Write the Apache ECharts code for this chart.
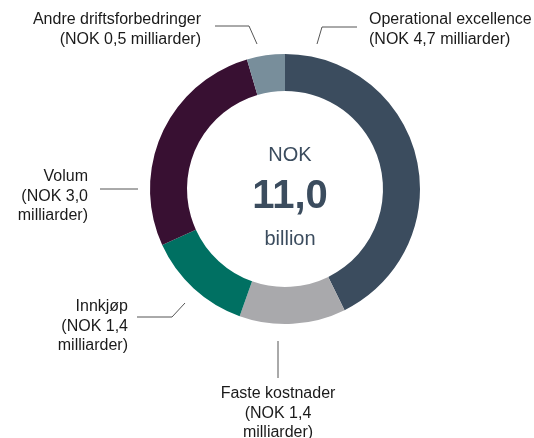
<!DOCTYPE html>
<html>
<head>
<meta charset="utf-8">
<script src="https://cdn.jsdelivr.net/npm/echarts@6/dist/echarts.min.js"></script>
<style>
  html, body { margin: 0; padding: 0; background: #fff; }
  #chart { width: 534px; height: 438px; }
</style>
</head>
<body>
<div id="chart"></div>
<script>
// data
var categories = ['Operational excellence', 'Faste kostnader', 'Innkjøp', 'Volum', 'Andre driftsforbedringer'];
var values = [4.7, 1.4, 1.4, 3.0, 0.5];
var wrapUnit = [false, true, true, true, false];
var colors = ['#3b4c5e', '#a9a9ac', '#007062', '#381032', '#788e9b'];
var centerTop = 'NOK';
var centerBottom = 'billion';

function fmt(v) { return v.toFixed(1).replace('.', ','); }

var total = values.reduce(function (a, b) { return a + b; }, 0);

// label placement (text anchor + leader line), same order as categories
var labelPos = [
    { x: 369, y: 10, align: 'left', line: [[317, 44], [322, 27], [357, 27]] },
    { x: 278, y: 384, align: 'center', line: [[278, 341], [278, 360], [278, 378]] },
    { x: 128, y: 297, align: 'right', line: [[185, 303], [172, 317], [137, 317]] },
    { x: 88, y: 167, align: 'right', line: [[138, 189], [119, 189], [100, 189]] },
    { x: 201, y: 10, align: 'right', line: [[257, 44], [249, 26], [215, 26]] }
];

var pieData = categories.map(function (c, i) {
    return { name: c, value: values[i], itemStyle: { color: colors[i] } };
});

var chart = echarts.init(document.getElementById('chart'), null, { renderer: 'canvas' });
chart.setOption({
    animation: false,
    textStyle: { fontFamily: 'Liberation Sans, Arial, sans-serif' },
    title: [
        { text: centerTop, left: 285, top: 140, textAlign: 'center',
          textStyle: { fontSize: 20, fontWeight: 'normal', color: '#3b4c5e', fontFamily: 'Liberation Sans' } },
        { text: fmt(total), left: 285, top: 172, textAlign: 'center',
          textStyle: { fontSize: 40, fontWeight: 'bold', color: '#3b4c5e', fontFamily: 'Liberation Sans' } },
        { text: centerBottom, left: 285, top: 224, textAlign: 'center',
          textStyle: { fontSize: 20, fontWeight: 'normal', color: '#3b4c5e', fontFamily: 'Liberation Sans' } }
    ],
    series: [{
        type: 'pie',
        center: [285, 189],
        radius: [98, 135],
        startAngle: 90,
        clockwise: true,
        avoidLabelOverlap: false,
        silent: true,
        data: pieData,
        label: {
            show: true,
            color: '#1a1a1a',
            fontSize: 16,
            lineHeight: 19.5,
            fontFamily: 'Liberation Sans',
            formatter: function (p) {
                var i = p.dataIndex;
                return p.name + '\n(NOK ' + fmt(p.value) + (wrapUnit[i] ? '\n' : ' ') + 'milliarder)';
            }
        },
        labelLine: {
            show: true,
            lineStyle: { color: '#555', width: 1 }
        },
        labelLayout: function (params) {
            var lp = labelPos[params.dataIndex];
            return {
                x: lp.x,
                y: lp.y,
                align: lp.align,
                verticalAlign: 'top',
                labelLinePoints: lp.line
            };
        }
    }]
});
</script>
</body>
</html>
